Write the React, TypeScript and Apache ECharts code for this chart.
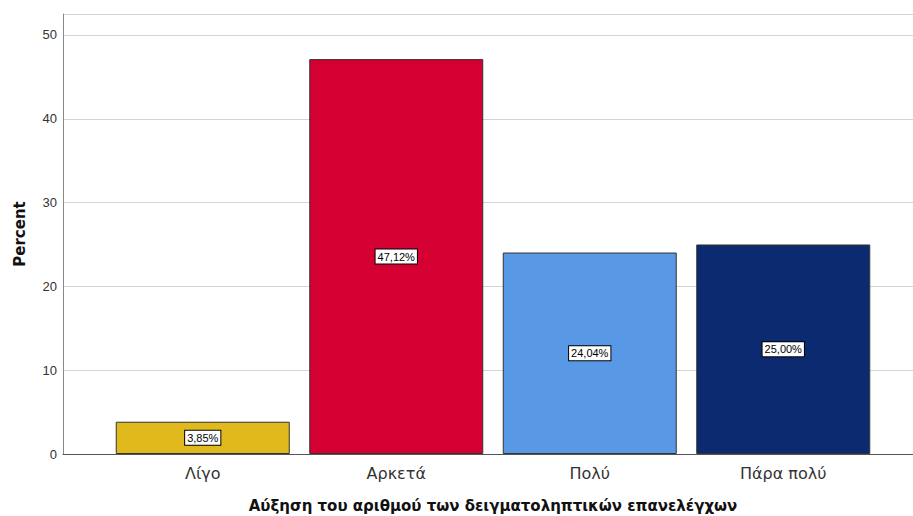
import React, { useEffect, useRef } from "react";
import * as echarts from "echarts";

const categories = ["Λίγο", "Αρκετά", "Πολύ", "Πάρα πολύ"];
const percents = [3.85, 47.12, 24.04, 25.0];
const barColors = ["#E0B91C", "#D50032", "#5898E4", "#0C2A70"];
const xTitle = "Αύξηση του αριθμού των δειγματοληπτικών επανελέγχων";
const yTitle = "Percent";

const FONT = "'Liberation Sans', Arial, sans-serif";
const WIDE_FONT = "'DejaVu Sans', 'Liberation Sans', sans-serif";
const Y_MAX = 52.5;

export default function App() {
  const ref = useRef<HTMLDivElement>(null);

  useEffect(() => {
    if (!ref.current) return;
    const chart = echarts.init(ref.current, null, { renderer: "svg" });
    chart.setOption({
      animation: false,
      backgroundColor: "#ffffff",
      textStyle: { fontFamily: FONT },
      grid: [
        // frame: value axis, gridlines and baseline
        { left: 63, right: 0, top: 14, bottom: 62, outerBoundsMode: "none" },
        // bars
        { left: 106, right: 33, top: 14, bottom: 62, outerBoundsMode: "none" },
      ],
      xAxis: [
        {
          gridIndex: 0,
          type: "value",
          min: 0,
          max: 1,
          axisLine: { show: true, lineStyle: { color: "#555555", width: 1 } },
          axisTick: { show: false },
          axisLabel: { show: false },
          splitLine: { show: false },
        },
        {
          gridIndex: 1,
          type: "category",
          data: categories,
          axisLine: { show: false },
          axisTick: { show: false },
          axisLabel: {
            color: "#333333",
            fontSize: 16,
            fontFamily: WIDE_FONT,
            margin: 11,
          },
          name: xTitle,
          nameLocation: "middle",
          nameGap: 44,
          nameTextStyle: {
            color: "#111111",
            fontSize: 15,
            fontWeight: "bold",
            fontFamily: WIDE_FONT,
          },
        },
      ],
      yAxis: [
        {
          gridIndex: 0,
          type: "value",
          min: 0,
          max: Y_MAX,
          interval: 10,
          axisLine: { show: true, lineStyle: { color: "#888888", width: 1 } },
          axisTick: { show: false },
          axisLabel: {
            color: "#333333",
            fontSize: 13,
            fontFamily: FONT,
            margin: 6,
            showMaxLabel: false,
          },
          splitLine: { show: true, lineStyle: { color: "#d4d4d4", width: 1 } },
          name: yTitle,
          nameLocation: "middle",
          nameGap: 36,
          nameRotate: 90,
          nameTextStyle: {
            color: "#111111",
            fontSize: 15,
            fontWeight: "bold",
            fontFamily: WIDE_FONT,
          },
        },
        {
          gridIndex: 1,
          type: "value",
          min: 0,
          max: Y_MAX,
          show: false,
        },
      ],
      series: [
        {
          type: "bar",
          xAxisIndex: 1,
          yAxisIndex: 1,
          barWidth: 174,
          data: percents.map((v, i) => ({
            value: v,
            itemStyle: {
              color: barColors[i],
              borderColor: "#333333",
              borderWidth: 1,
            },
          })),
          label: {
            show: true,
            position: "inside",
            formatter: (p: any) =>
              Number(p.value).toFixed(2).replace(".", ",") + "%",
            color: "#000000",
            fontSize: 11,
            fontFamily: FONT,
            backgroundColor: "#ffffff",
            borderColor: "#000000",
            borderWidth: 1,
            padding: [2, 2, 1, 2],
          },
        },
      ],
    });
    return () => chart.dispose();
  }, []);

  return (
    <div
      ref={ref}
      style={{ position: "fixed", left: 0, top: 0, width: 913, height: 516 }}
    />
  );
}
